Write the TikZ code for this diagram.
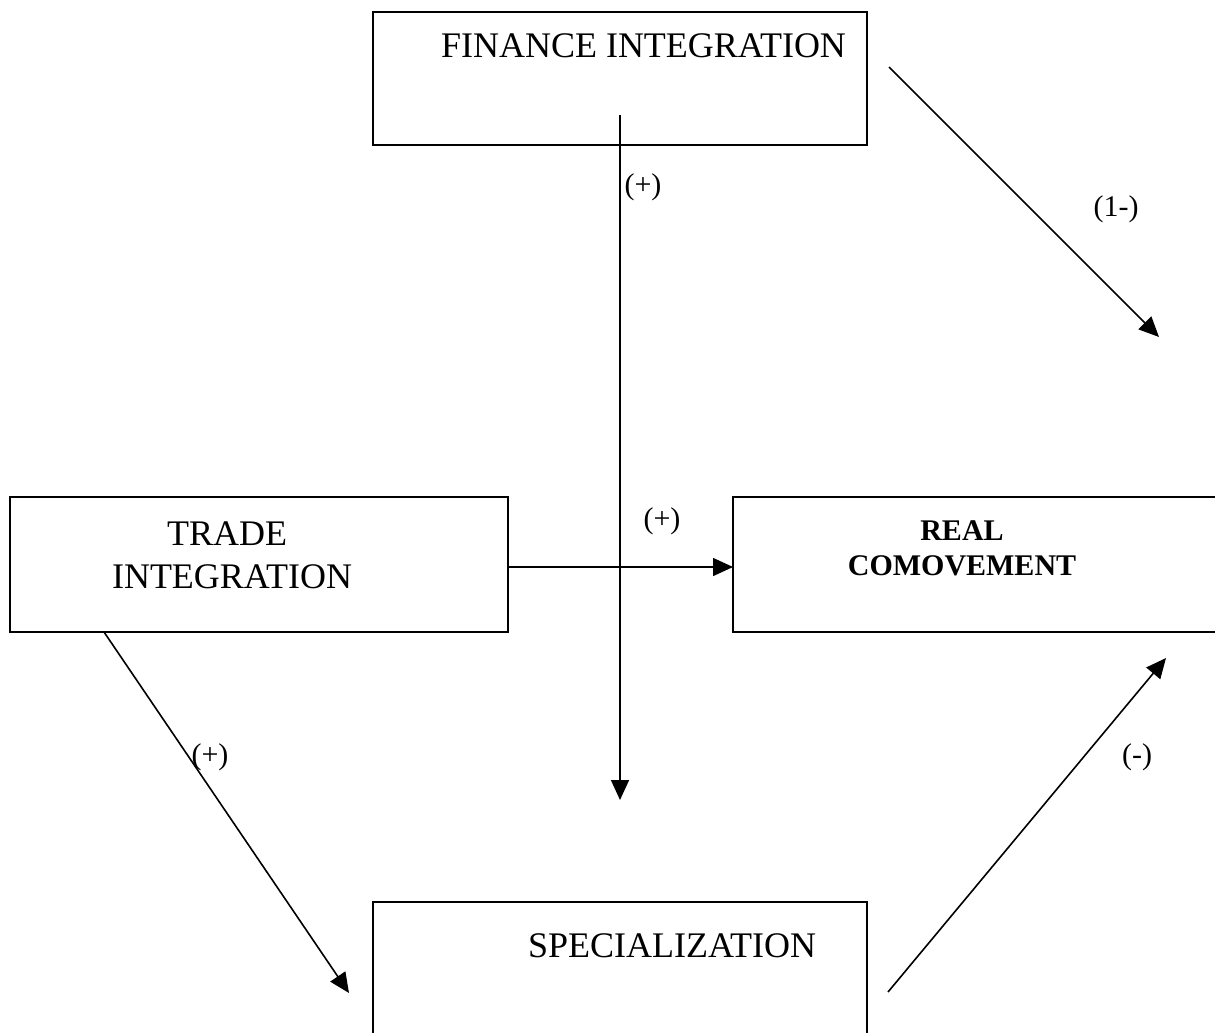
\documentclass[tikz,border=0pt]{standalone}
\usepackage{fontspec}
\setmainfont{Liberation Serif}
\usetikzlibrary{arrows.meta}
\tikzset{
  boxnode/.style={draw, line width=1.8pt, inner sep=0pt, outer sep=0pt, anchor=north west},
  bigtxt/.style={font=\fontsize{36}{42}\selectfont, inner sep=0pt, anchor=base},
  boldtxt/.style={font=\fontsize{30}{35}\selectfont\bfseries, inner sep=0pt, anchor=base},
  lbl/.style={font=\fontsize{30}{35}\selectfont, inner sep=0pt},
  conn/.style={line width=1.6pt, -{Triangle[length=20pt,width=18pt]}}
}
\begin{document}
\begin{tikzpicture}[x=1pt,y=-1pt]
\useasboundingbox (0,0) rectangle (1215,1033);
% boxes
\node[boxnode, minimum width=494pt, minimum height=133pt] (fin) at (373,12) {};
\node[boxnode, minimum width=498pt, minimum height=135pt] (trade) at (10,497) {};
\node[boxnode, minimum width=500pt, minimum height=135pt] (real) at (733,497) {};
\node[boxnode, minimum width=494pt, minimum height=150pt] (spec) at (373,902) {};
% texts
\node[bigtxt] (fintxt) at (643.5,58) {FINANCE INTEGRATION};
\node[bigtxt] (tradetxt1) at (227,545) {TRADE};
\node[bigtxt] (tradetxt2) at (232,588) {INTEGRATION};
\node[boldtxt] (realtxt1) at (962,540) {REAL};
\node[boldtxt] (realtxt2) at (962,575) {COMOVEMENT};
\node[bigtxt] (spectxt) at (672,957) {SPECIALIZATION};
% connector end points
\coordinate (vS) at (620,115);
\coordinate (vE) at (620,800);
\coordinate (fdS) at (889,67);
\coordinate (fdE) at (1159,337);
\coordinate (hy) at (0,567);
\coordinate (tdS) at (104,632);
\coordinate (tdE) at (349,993);
\coordinate (sdS) at (888,992);
\coordinate (sdE) at (1166,658);
% connectors
\draw[conn] (vS) -- (vE);
\draw[conn] (fdS) -- (fdE);
\draw[conn] (trade.east |- hy) -- (real.west |- hy);
\draw[conn] (tdS) -- (tdE);
\draw[conn] (sdS) -- (sdE);
% labels
\node[lbl] (l1) at (643,187) {(+)};
\node[lbl] (l2) at (1116,209) {(1-)};
\node[lbl] (l3) at (662,521) {(+)};
\node[lbl] (l4) at (210,757) {(+)};
\node[lbl] (l5) at (1137,757) {(-)};
\end{tikzpicture}
\end{document}
